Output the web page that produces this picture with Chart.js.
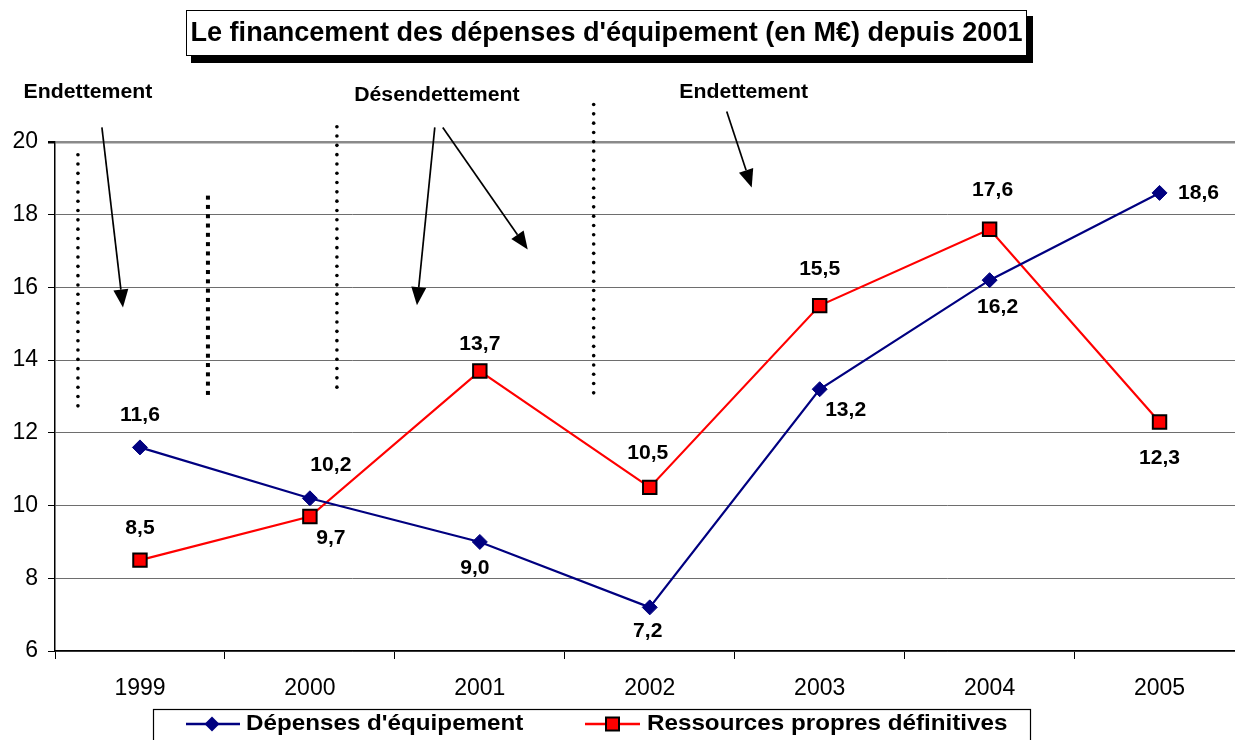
<!DOCTYPE html>
<html><head><meta charset="utf-8">
<script src="https://cdn.jsdelivr.net/npm/chart.js@4.4.1/dist/chart.umd.min.js"></script>
<style>html,body{margin:0;padding:0;background:#fff;overflow:hidden;} #wrap{width:1256px;height:740px;}</style>
</head><body><div id="wrap"><canvas id="c" width="1256" height="740"></canvas></div>
<script>
// ---- data ----
const years = ['1999','2000','2001','2002','2003','2004','2005'];
const depensesEquipement = [11.6, 10.2, 9.0, 7.2, 13.2, 16.2, 18.6];
const ressourcesPropres = [8.5, 9.7, 13.7, 10.5, 15.5, 17.6, 12.3];
const yTickValues = [6, 8, 10, 12, 14, 16, 18, 20];
const seriesLabels = ["Dépenses d'équipement", "Ressources propres définitives"];
const chartTitle = "Le financement des dépenses d'équipement (en M€) depuis 2001";
const phaseLabels = ["Endettement", "Désendettement", "Endettement"];

// ---- presentation (data coordinates: x = category index, y = value) ----
const labelOffsets = [
  [[0,-32],[21,-33],[-5,26],[-2,24],[26,21],[8,27],[39,0]],
  [[0,-32],[21,22],[0,-27],[-2,-34],[0,-36],[3,-39],[0,36]]
];
const phaseTextPos = [{x:-0.306,y:21.36},{x:1.747,y:21.27},{x:3.553,y:21.36}];
const dividers = [
  {x:-0.365,y1:19.65,y2:12.65,square:false},
  {x:0.4,y1:18.47,y2:13.09,square:true},
  {x:1.159,y1:20.42,y2:13.2,square:false},
  {x:2.67,y1:21.03,y2:13.03,square:false}
];
const arrows = [
  {x1:-0.224,y1:20.4,x2:-0.1,y2:15.45},
  {x1:1.735,y1:20.4,x2:1.63,y2:15.51},
  {x1:1.782,y1:20.4,x2:2.282,y2:17.04},
  {x1:3.453,y1:20.84,x2:3.6,y2:18.75}
];

const FONT = '"Liberation Sans", Arial, Helvetica, sans-serif';
const fmt = v => v.toFixed(1).replace('.', ',');

function sText(ctx, text, x, y, size, sx, align, bold=true){
  ctx.save();
  ctx.font = (bold?'bold ':'') + size + 'px ' + FONT;
  ctx.translate(x, y); ctx.scale(sx, 1);
  ctx.textAlign = align; ctx.textBaseline = 'middle'; ctx.fillStyle = '#000';
  ctx.fillText(text, 0, 0);
  ctx.restore();
}

const labelsPlugin = {
  id: 'dataLabels',
  afterDatasetsDraw(chart){
    const ctx = chart.ctx;
    chart.data.datasets.forEach((ds, di) => {
      const meta = chart.getDatasetMeta(di);
      meta.data.forEach((pt, i) => {
        const o = labelOffsets[di][i];
        sText(ctx, fmt(ds.data[i]), pt.x + o[0], pt.y + o[1], 20.5, 1.03, 'center');
      });
    });
  }
};

const decorPlugin = {
  id: 'decor',
  afterDraw(chart){
    const ctx = chart.ctx, xs = chart.scales.x, ys = chart.scales.y;
    const X = v => xs.getPixelForValue(v), Y = v => ys.getPixelForValue(v);
    ctx.save();
    // title box with shadow
    ctx.fillStyle = '#000';
    ctx.fillRect(191, 16, 842, 47);
    ctx.fillStyle = '#fff';
    ctx.fillRect(186, 10, 841, 46);
    ctx.strokeStyle = '#000'; ctx.lineWidth = 1;
    ctx.strokeRect(186.5, 10.5, 840, 45);
    ctx.font = 'bold 27px ' + FONT;
    const tw = ctx.measureText(chartTitle).width;
    sText(ctx, chartTitle, 606.5, 34, 27, 832 / tw, 'center');

    // dotted dividers
    ctx.fillStyle = '#000';
    dividers.forEach(d => {
      const px = X(d.x), top = Y(d.y1), bot = Y(d.y2);
      for (let y = top; y <= bot; y += 9.3) {
        if (d.square) { ctx.fillRect(px - 2, y - 2, 4, 4); }
        else { ctx.beginPath(); ctx.arc(px, y, 1.8, 0, Math.PI * 2); ctx.fill(); }
      }
    });
    // arrows
    arrows.forEach(a => {
      const x1 = X(a.x1), y1 = Y(a.y1), x2 = X(a.x2), y2 = Y(a.y2);
      const ang = Math.atan2(y2 - y1, x2 - x1), L = 18, W = 7.5;
      const bx = x2 - L * Math.cos(ang), by = y2 - L * Math.sin(ang);
      ctx.strokeStyle = '#000'; ctx.lineWidth = 1.7;
      ctx.beginPath(); ctx.moveTo(x1, y1); ctx.lineTo(bx, by); ctx.stroke();
      ctx.beginPath();
      ctx.moveTo(x2, y2);
      ctx.lineTo(bx + W * Math.sin(ang), by - W * Math.cos(ang));
      ctx.lineTo(bx - W * Math.sin(ang), by + W * Math.cos(ang));
      ctx.closePath(); ctx.fill();
    });
    // phase labels
    phaseTextPos.forEach((p, i) => sText(ctx, phaseLabels[i], X(p.x), Y(p.y), 19.5, 1.09, 'center'));

    // legend
    ctx.strokeStyle = '#000'; ctx.lineWidth = 1.2;
    ctx.fillStyle = '#fff';
    ctx.fillRect(153, 709, 877, 40);
    ctx.strokeRect(153.5, 709.5, 877, 40);
    const ly = 724;
    const d0 = chart.data.datasets[0], d1 = chart.data.datasets[1];
    ctx.strokeStyle = d0.borderColor; ctx.lineWidth = 2.5;
    ctx.beginPath(); ctx.moveTo(186, ly); ctx.lineTo(240, ly); ctx.stroke();
    ctx.fillStyle = d0.pointBackgroundColor;
    ctx.beginPath(); ctx.moveTo(212, ly - 7.5); ctx.lineTo(219.5, ly); ctx.lineTo(212, ly + 7.5); ctx.lineTo(204.5, ly); ctx.closePath(); ctx.fill();
    sText(ctx, seriesLabels[0], 246, ly, 22, 1.1, 'left');
    ctx.strokeStyle = d1.borderColor; ctx.lineWidth = 2.5;
    ctx.beginPath(); ctx.moveTo(585, ly); ctx.lineTo(640, ly); ctx.stroke();
    ctx.fillStyle = d1.pointBackgroundColor;
    ctx.fillRect(606, ly - 6.5, 13, 13);
    ctx.strokeStyle = '#000'; ctx.lineWidth = 2;
    ctx.strokeRect(606, ly - 6.5, 13, 13);
    sText(ctx, seriesLabels[1], 647, ly, 22, 1.1, 'left');
    ctx.restore();
  }
};

new Chart(document.getElementById('c'), {
  type: 'line',
  data: {
    labels: years,
    datasets: [
      { label: seriesLabels[0], data: depensesEquipement, borderColor: '#000080', backgroundColor: '#000080',
        borderWidth: 2.2, pointStyle: 'rectRot', pointRadius: 7.5, pointBackgroundColor: '#000080',
        pointBorderColor: '#000080', pointBorderWidth: 1, tension: 0, fill: false },
      { label: seriesLabels[1], data: ressourcesPropres, borderColor: '#ff0000', backgroundColor: '#ff0000',
        borderWidth: 2.2, pointStyle: 'rect', pointRadius: 9.5, pointBackgroundColor: '#ff0000',
        pointBorderColor: '#000000', pointBorderWidth: 2, tension: 0, fill: false }
    ]
  },
  options: {
    responsive: false, animation: false,
    layout: { padding: { top: 142, left: 0, right: 0, bottom: 40 } },
    plugins: { legend: { display: false }, title: { display: false }, tooltip: { enabled: false } },
    scales: {
      x: {
        offset: true,
        grid: { offset: true, drawOnChartArea: false, drawTicks: true, tickLength: 8, color: '#000', tickColor: '#000', lineWidth: 1 },
        border: { color: '#000', width: 1.5 },
        ticks: { font: { family: FONT, size: 23 }, color: '#000', padding: 16, maxRotation: 0, autoSkip: false },
        afterFit(s) { s.height = 49; }
      },
      y: {
        min: 6, max: 20,
        afterBuildTicks(s) { s.ticks = yTickValues.map(v => ({ value: v })); },
        grid: {
          color: c => c.tick && c.tick.value === 20 ? '#8a8a8a' : '#6e6e6e',
          lineWidth: c => c.tick && c.tick.value === 20 ? 2.5 : 1,
          tickColor: '#000', tickLength: 7, drawTicks: true
        },
        border: { color: '#000', width: 1.5 },
        ticks: { font: { family: FONT, size: 23 }, color: '#000', padding: 10 },
        afterFit(s) { s.width = 55; }
      }
    }
  },
  plugins: [labelsPlugin, decorPlugin]
});
</script>
</body></html>
